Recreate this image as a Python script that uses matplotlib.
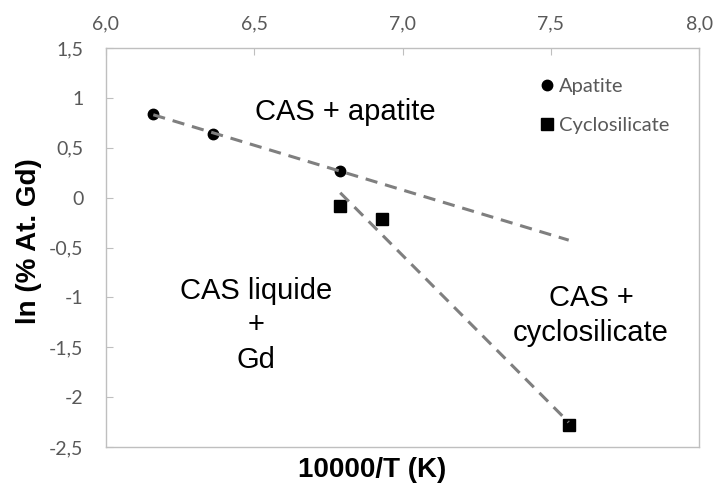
import matplotlib.pyplot as plt
import numpy as np

# ln(% at. Gd) against 10000/T for the two crystallising phases
apatite_x = [6.16, 6.36, 6.79]
apatite_y = [0.84, 0.64, 0.27]
cyclo_x = [6.79, 6.93, 7.56]
cyclo_y = [-0.08, -0.21, -2.28]

x_ticks = [6.0, 6.5, 7.0, 7.5, 8.0]
y_ticks = [-2.5, -2.0, -1.5, -1.0, -0.5, 0.0, 0.5, 1.0, 1.5]

GRID = '#bfbfbf'
TICK_TXT = '#595959'
TREND = '#7f7f7f'

def fr(v, dec):
    return f"{v:.{dec}f}".replace('.', ',')

fig = plt.figure(figsize=(7.15, 4.86), dpi=100)
ax = fig.add_axes([0.148, 0.080, 0.830, 0.821])

ax.plot(apatite_x, apatite_y, 'o', color='black', markersize=7.5, label='Apatite', zorder=3)
ax.plot(cyclo_x, cyclo_y, 's', color='black', markersize=8, label='Cyclosilicate', zorder=3)

# linear trend lines, the apatite one extended up to the last cyclosilicate point
p = np.polyfit(apatite_x, apatite_y, 1)
xa = np.array([apatite_x[0], cyclo_x[-1]])
ax.plot(xa, np.polyval(p, xa), color=TREND, lw=2.2, dashes=(4, 2.6), zorder=4)
q = np.polyfit(cyclo_x, cyclo_y, 1)
xc = np.array([cyclo_x[0], cyclo_x[-1]])
ax.plot(xc, np.polyval(q, xc), color=TREND, lw=2.2, dashes=(4, 2.6), zorder=4)

ax.set_xlim(6.0, 8.0)
ax.set_ylim(-2.5, 1.5)
ax.xaxis.tick_top()
ax.set_xticks(x_ticks)
ax.set_xticklabels([fr(v, 1) for v in x_ticks])
ax.set_yticks(y_ticks)
ax.set_yticklabels([fr(v, 1) if v % 1 else fr(v, 0) for v in y_ticks])
ax.tick_params(direction='in', length=5, color=GRID, labelcolor=TICK_TXT,
               labelsize=14, pad=11)
ax.tick_params(axis='y', pad=16)
for lbl in ax.get_xticklabels() + ax.get_yticklabels():
    lbl.set_family('Lato')
for s in ax.spines.values():
    s.set_color(GRID)
    s.set_linewidth(1.0)

ax.text(0.449, -0.058, '10000/T (K)', transform=ax.transAxes, ha='center', va='center',
        family='Liberation Sans', fontsize=20, fontweight='bold')
fig.text(0.040, 0.504, 'ln (% At. Gd)', rotation=90, ha='center', va='center',
         family='Liberation Sans', fontsize=20, fontweight='bold')

ax.text(6.806, 0.86, 'CAS + apatite', ha='center', va='center',
        family='Liberation Sans', fontsize=21)
ax.text(6.506, -1.28, 'CAS liquide\n+\nGd', ha='center', va='center',
        family='Liberation Sans', fontsize=21, linespacing=1.28)
ax.text(7.635, -1.18, 'CAS +\ncyclosilicate', ha='center', va='center',
        family='Liberation Sans', fontsize=21, linespacing=1.28)

leg = ax.legend(loc='upper left', bbox_to_anchor=(0.72, 0.945), frameon=False,
                handlelength=0.6, handletextpad=0.3, labelspacing=1.1,
                prop={'family': 'Lato', 'size': 14.5}, borderaxespad=0)
for t in leg.get_texts():
    t.set_color(TICK_TXT)

fig.savefig('out.png', dpi=100)
